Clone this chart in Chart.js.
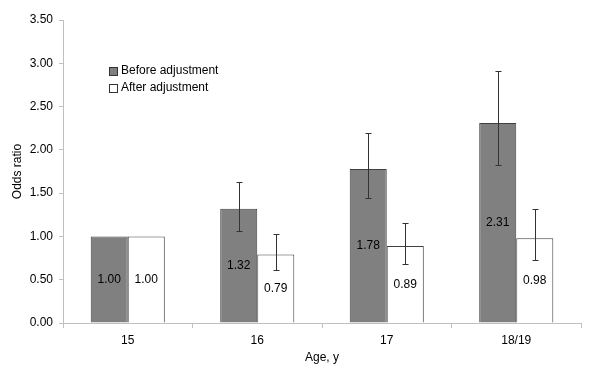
<!DOCTYPE html>
<html>
<head>
<meta charset="utf-8">
<script src="https://cdn.jsdelivr.net/npm/chart.js@4"></script>
<style>
  html, body { margin: 0; padding: 0; background: #fff; }
  #wrap { width: 600px; height: 378px; position: relative; }
</style>
</head>
<body>
<div id="wrap"><canvas id="chart" width="600" height="378"></canvas></div>
<script>
// Data
const ages = ['15', '16', '17', '18/19'];
const beforeAdj = [1.00, 1.32, 1.78, 2.31];
const beforeLow = [null, 1.06, 1.44, 1.82];
const beforeHigh = [null, 1.63, 2.20, 2.91];
const afterAdj = [1.00, 0.79, 0.89, 0.98];
const afterLow = [null, 0.61, 0.68, 0.73];
const afterHigh = [null, 1.03, 1.16, 1.32];
const yTicks = [0, 0.5, 1, 1.5, 2, 2.5, 3, 3.5];

const FONT = "'Liberation Sans', Arial, sans-serif";

// Error bars drawn through the scales
const errorBars = {
    id: 'errorBars',
    afterDatasetsDraw(chart) {
        const ctx = chart.ctx;
        const y = chart.scales.y;
        ctx.save();
        ctx.strokeStyle = '#333';
        ctx.lineWidth = 1;
        chart.data.datasets.forEach((ds, i) => {
            const meta = chart.getDatasetMeta(i);
            meta.data.forEach((bar, j) => {
                const lo = ds.errLow[j], hi = ds.errHigh[j];
                if (lo == null || hi == null) return;
                const x = Math.round(bar.x) + 0.5;
                const yl = Math.round(y.getPixelForValue(lo)) + 0.5;
                const yh = Math.round(y.getPixelForValue(hi)) + 0.5;
                ctx.beginPath();
                ctx.moveTo(x, yl); ctx.lineTo(x, yh);
                ctx.moveTo(x - 3, yl); ctx.lineTo(x + 3, yl);
                ctx.moveTo(x - 3, yh); ctx.lineTo(x + 3, yh);
                ctx.stroke();
            });
        });
        ctx.restore();
    }
};

// Value labels in the middle of each bar
const barLabels = {
    id: 'barLabels',
    afterDatasetsDraw(chart) {
        const ctx = chart.ctx;
        ctx.save();
        ctx.font = '12px ' + FONT;
        ctx.fillStyle = '#000';
        ctx.textAlign = 'center';
        ctx.textBaseline = 'middle';
        chart.data.datasets.forEach((ds, i) => {
            chart.getDatasetMeta(i).data.forEach((bar, j) => {
                const mid = (bar.y + bar.base) / 2;
                ctx.fillText(ds.data[j].toFixed(2), bar.x, mid);
            });
        });
        ctx.restore();
    }
};

// Legend inside the plot, top-left
const innerLegend = {
    id: 'innerLegend',
    afterDraw(chart) {
        const ctx = chart.ctx;
        const area = chart.chartArea;
        const x0 = area.left + 46;
        let yc = area.top + 51;
        ctx.save();
        ctx.font = '12px ' + FONT;
        ctx.textBaseline = 'middle';
        chart.data.datasets.forEach(ds => {
            ctx.fillStyle = ds.backgroundColor;
            ctx.fillRect(x0, yc - 4, 8, 8);
            ctx.strokeStyle = '#333';
            ctx.lineWidth = 1;
            ctx.strokeRect(x0 + 0.5, yc - 4 + 0.5, 8, 8);
            ctx.fillStyle = '#000';
            ctx.fillText(ds.label, x0 + 12, yc);
            yc += 17;
        });
        ctx.restore();
    }
};

new Chart(document.getElementById('chart'), {
    type: 'bar',
    data: {
        labels: ages,
        datasets: [{
            label: 'Before adjustment',
            data: beforeAdj,
            errLow: beforeLow,
            errHigh: beforeHigh,
            backgroundColor: '#808080',
            borderColor: '#404040',
            borderWidth: 1
        }, {
            label: 'After adjustment',
            data: afterAdj,
            errLow: afterLow,
            errHigh: afterHigh,
            backgroundColor: '#ffffff',
            borderColor: '#404040',
            borderWidth: 1
        }]
    },
    options: {
        responsive: false,
        animation: false,
        layout: { padding: { left: 0, top: 20, right: 19, bottom: 13 } },
        plugins: {
            legend: { display: false },
            tooltip: { enabled: false }
        },
        datasets: {
            bar: { categoryPercentage: 0.572, barPercentage: 1.0 }
        },
        scales: {
            x: {
                grid: { drawOnChartArea: false, drawTicks: true, tickLength: 5, color: '#c0c0c0', offset: true },
                border: { color: '#c0c0c0' },
                ticks: { color: '#000', font: { family: FONT, size: 12 }, padding: 5 },
                title: { display: true, text: 'Age, y', color: '#000', font: { family: FONT, size: 12 }, padding: { top: 0, bottom: 0 } },
                afterFit: (s) => { s.height = 42; }
            },
            y: {
                min: 0,
                max: 3.5,
                afterBuildTicks: (s) => { s.ticks = yTicks.map(v => ({ value: v })); },
                grid: { drawOnChartArea: false, drawTicks: true, tickLength: 4, color: '#c0c0c0' },
                border: { color: '#c0c0c0' },
                ticks: { color: '#000', font: { family: FONT, size: 12 }, padding: 6, callback: (v) => v.toFixed(2) },
                title: { display: true, text: 'Odds ratio', color: '#000', font: { family: FONT, size: 12 }, padding: { top: 10, bottom: 0 } },
                afterFit: (s) => { s.width = 63; }
            }
        }
    },
    plugins: [errorBars, barLabels, innerLegend]
});
</script>
</body>
</html>
